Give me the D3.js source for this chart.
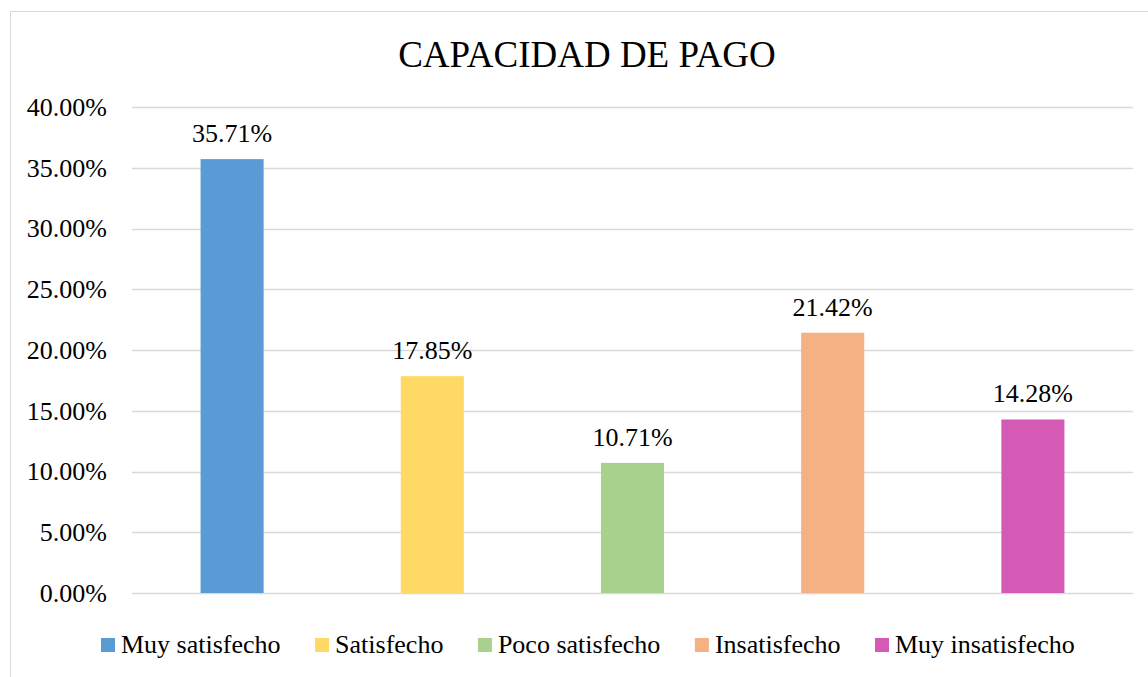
<!DOCTYPE html>
<html>
<head>
<meta charset="utf-8">
<script src="https://cdn.jsdelivr.net/npm/d3@7"></script>
<style>
  body { margin: 0; background: #fff; }
  text { font-family: "Liberation Serif", "Times New Roman", serif; fill: #000; }
</style>
</head>
<body>
<svg id="chart" width="1148" height="677"></svg>
<script>
let categories = ["Muy satisfecho", "Satisfecho", "Poco satisfecho", "Insatisfecho", "Muy insatisfecho"]
let values = [35.71, 17.85, 10.71, 21.42, 14.28]
let colors = ["#5B9BD5", "#FFD966", "#A9D18E", "#F4B183", "#D55AB5"]
let tickValues = [0, 5, 10, 15, 20, 25, 30, 35, 40]

let svg = d3.select("#chart")

// chart border (right and bottom run off the picture)
svg.append("path")
    .attr("d", "M10.5,677 V11.5 H1148")
    .attr("fill", "none")
    .attr("stroke", "#d9d9d9")
    .attr("stroke-width", 1)

svg.append("text")
    .attr("x", 587)
    .attr("y", 67)
    .attr("text-anchor", "middle")
    .style("font-size", "37px")
    .text("CAPACIDAD DE PAGO")

let y = d3.scaleLinear()
    .domain([0, 40])
    .range([593, 107])

let x = d3.scaleBand()
    .domain(categories)
    .range([132, 1133])
    .paddingInner(0.685)
    .paddingOuter(0.3425)

// gridlines
svg.append("g")
    .selectAll("line")
    .data(tickValues)
    .enter()
    .append("line")
    .attr("x1", 132)
    .attr("x2", 1133)
    .attr("y1", d => Math.round(y(d)) + 0.5)
    .attr("y2", d => Math.round(y(d)) + 0.5)
    .attr("stroke", "#d9d9d9")
    .attr("stroke-width", 1.5)

let yAxis = d3.axisLeft(y)
    .tickValues(tickValues)
    .tickFormat(d => d.toFixed(2) + "%")
    .tickSize(0)
    .tickPadding(0)

let yg = svg.append("g")
    .attr("transform", "translate(107, 0)")
    .call(yAxis)
yg.select(".domain").remove()
yg.attr("font-family", null).attr("font-size", null)
yg.selectAll("text")
    .style("font-size", "26px")
    .style("font-family", "'Liberation Serif', 'Times New Roman', serif")
    .attr("fill", "#000")

svg.append("g")
    .selectAll("rect")
    .data(values)
    .enter()
    .append("rect")
    .attr("x", (d, i) => x(categories[i]))
    .attr("width", x.bandwidth())
    .attr("y", d => y(d))
    .attr("height", d => y(0) - y(d))
    .attr("fill", (d, i) => colors[i])

svg.append("g")
    .selectAll("text")
    .data(values)
    .enter()
    .append("text")
    .attr("x", (d, i) => x(categories[i]) + x.bandwidth() / 2)
    .attr("y", d => y(d) - 17)
    .attr("text-anchor", "middle")
    .style("font-size", "26px")
    .text(d => d.toFixed(2) + "%")

// legend
let legend = svg.append("g").attr("transform", "translate(0, 653)")
let lx = 101
categories.forEach((c, i) => {
    let item = legend.append("g").attr("transform", "translate(" + lx + ",0)")
    item.append("rect")
        .attr("x", 0)
        .attr("y", -15)
        .attr("width", 14)
        .attr("height", 14)
        .attr("fill", colors[i])
    let t = item.append("text")
        .attr("x", 20)
        .attr("y", 0)
        .style("font-size", "26px")
        .text(c)
    lx += 20 + t.node().getComputedTextLength() + 34.5
})
</script>
</body>
</html>
